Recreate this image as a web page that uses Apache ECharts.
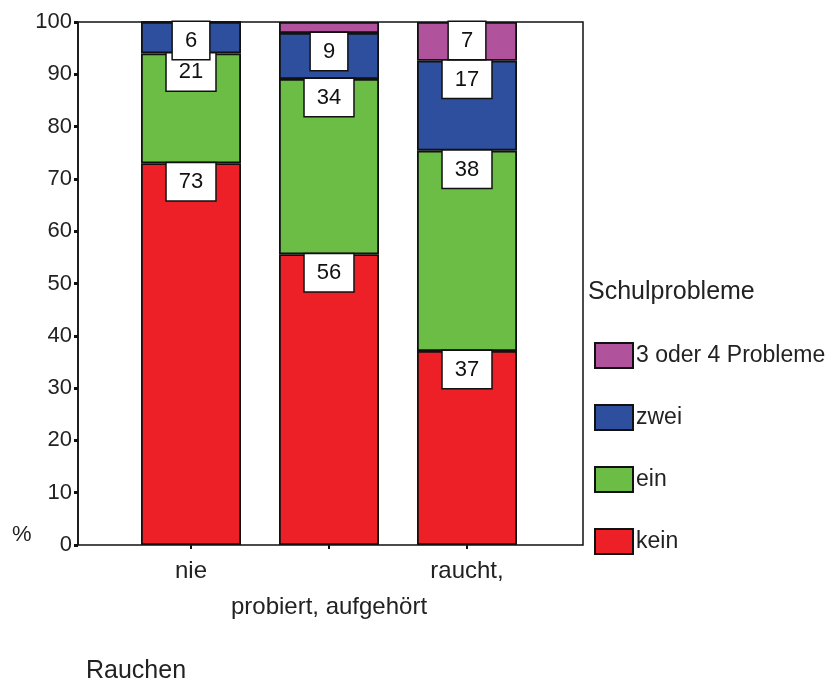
<!DOCTYPE html>
<html>
<head>
<meta charset="utf-8">
<script src="https://cdn.jsdelivr.net/npm/echarts@6/dist/echarts.min.js"></script>
<style>
  html, body { margin: 0; padding: 0; background: #fff; }
  #chart { width: 837px; height: 683px; }
</style>
</head>
<body>
<div id="chart"></div>
<script>
// Rauchen x Schulprobleme, percent per column
const categories = ['nie', 'probiert, aufgehört', 'raucht,'];
const kein = [73, 55.6, 37.1];
const ein = [21, 33.5, 38.3];
const zwei = [6, 8.8, 17.2];
const dreiVier = [0, 2.1, 7.4];
const yTicks = [0, 10, 20, 30, 40, 50, 60, 70, 80, 90, 100];

const FONT = '"Liberation Sans", Arial, sans-serif';

const boxLabel = {
  show: true,
  position: 'insideTop',
  distance: 0,
  color: '#111',
  fontFamily: FONT,
  fontSize: 22,
  lineHeight: 22,
  backgroundColor: '#fff',
  borderColor: '#111',
  borderWidth: 1.5,
  padding: [8, 12, 7, 12],
  formatter: p => Math.round(p.value)
};

// tiny slices carry no label in the original
function withLabels(values) {
  return values.map(v => v < 3 ? { value: v, label: { show: false } } : v);
}

function bar(name, values, color) {
  return {
    name,
    type: 'bar',
    stack: 'all',
    xAxisIndex: 1,
    yAxisIndex: 1,
    barWidth: 100,
    data: withLabels(values),
    itemStyle: { color, borderColor: '#111', borderWidth: 1.8 },
    label: boxLabel
  };
}

const chart = echarts.init(document.getElementById('chart'));

chart.setOption({
  animation: false,
  backgroundColor: '#fff',
  textStyle: { fontFamily: FONT },
  grid: [
    // frame + y axis
    { left: 78, right: 254, top: 22, bottom: 138, show: true, borderColor: '#111', borderWidth: 1.5, backgroundColor: 'transparent' },
    // bars, centred like the original
    { left: 122, right: 301, top: 22, bottom: 138 }
  ],
  xAxis: [
    { type: 'category', gridIndex: 0, data: [''], show: false },
    {
      type: 'category',
      gridIndex: 1,
      data: categories,
      axisLine: { show: false },
      axisTick: { show: true, alignWithLabel: true, length: 4, lineStyle: { color: '#111', width: 2 } },
      axisLabel: {
        color: '#222',
        fontSize: 24,
        lineHeight: 36,
        margin: 8,
        interval: 0,
        formatter: (v, i) => (i % 2 ? '\n' + v : v)
      }
    }
  ],
  yAxis: [
    {
      type: 'value',
      gridIndex: 0,
      min: 0,
      max: 100,
      interval: 10,
      axisLine: { show: true, lineStyle: { color: '#111', width: 1.5 } },
      axisTick: { show: true, length: 4, lineStyle: { color: '#111', width: 3 } },
      splitLine: { show: false },
      axisLabel: {
        color: '#222',
        fontSize: 22,
        margin: 6,
        formatter: v => (yTicks.includes(v) ? String(v) : '')
      }
    },
    { type: 'value', gridIndex: 1, min: 0, max: 100, show: false }
  ],
  legend: {
    orient: 'vertical',
    left: 594,
    top: 342,
    padding: 0,
    itemWidth: 38,
    itemHeight: 25,
    itemGap: 35,
    icon: 'rect',
    data: ['3 oder 4 Probleme', 'zwei', 'ein', 'kein'],
    textStyle: { color: '#222', fontSize: 23, fontFamily: FONT, padding: [0, 0, 0, -2] }
  },
  graphic: [
    { type: 'text', left: 588, top: 280, style: { text: 'Schulprobleme', fill: '#222', font: '25px ' + FONT } },
    { type: 'text', left: 12, top: 524, style: { text: '%', fill: '#222', font: '22px ' + FONT } },
    { type: 'text', left: 86, top: 659, style: { text: 'Rauchen', fill: '#222', font: '25px ' + FONT } }
  ],
  series: [
    bar('kein', kein, '#ED1F27'),
    bar('ein', ein, '#6CBD45'),
    bar('zwei', zwei, '#2E4F9E'),
    bar('3 oder 4 Probleme', dreiVier, '#B0529C')
  ]
});
</script>
</body>
</html>
